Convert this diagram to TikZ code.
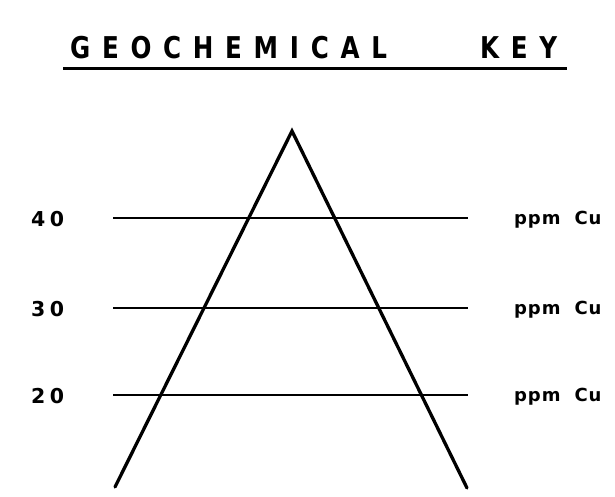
\documentclass[tikz,border=0pt]{standalone}
\usepackage{fontspec}
\setmainfont{DejaVu Sans}
\begin{document}
\begin{tikzpicture}[x=1pt,y=-1pt,
  titletext/.style={anchor=base west,inner sep=0pt,font=\fontsize{30}{31}\selectfont\bfseries\addfontfeature{FakeStretch=0.82,LetterSpace=39}},
  numtext/.style={anchor=base west,inner sep=0pt,font=\fontsize{20.5}{22}\selectfont\bfseries\addfontfeature{LetterSpace=22}},
  unittext/.style={anchor=base west,inner sep=0pt,font=\fontsize{18}{20}\selectfont\bfseries\addfontfeature{LetterSpace=5}},
  level/.style={line width=2pt},
  side/.style={line width=3.3pt,line cap=round,line join=miter}]
\useasboundingbox (0,0) rectangle (615,496);
% title
\node[titletext] (t1) at (70,58) {GEOCHEMICAL};
\node[titletext] (t2) at (480,58) {KEY};
\coordinate (u1) at (63,68);
\coordinate (u2) at (567,68);
\draw[line width=3pt] (u1) -- (u2);
% triangle
\coordinate (apex) at (292,131);
\coordinate (bl) at (115,487);
\coordinate (br) at (467,488);
\draw[side] (bl) -- (apex) -- (br);
% levels
\foreach \v/\y in {40/218,30/308,20/395}{
  \coordinate (l\v) at (113,\y);
  \coordinate (r\v) at (468,\y);
  \draw[level] (l\v) -- (r\v);
  \node[numtext] (n\v) at (31,\y+8) {\v};
  \node[unittext] (p\v) at (514,\y+6) {ppm\hspace{14pt}Cu};
}
\end{tikzpicture}
\end{document}
